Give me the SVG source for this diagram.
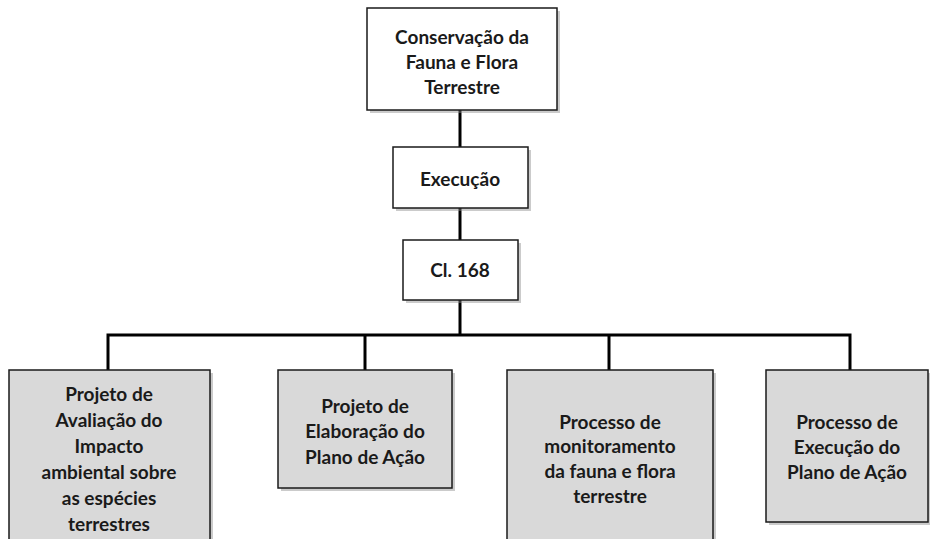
<svg xmlns="http://www.w3.org/2000/svg" width="930" height="539" viewBox="0 0 930 539">
<style>
.box{stroke:#1a1a1a;stroke-width:1.5}
.w{fill:#ffffff}
.g{fill:#d9d9d9}
.sh{fill:#8c8c8c;opacity:0.45}
text{font-family:Lato,"Liberation Sans",sans-serif;font-weight:bold;font-size:19px;fill:#1a1a1a;text-anchor:middle}
.c{stroke:#000;stroke-width:3;fill:none}
</style>
<rect width="930" height="539" fill="#ffffff"/>
<g id="connectors">
<line class="c" x1="460" y1="110" x2="460" y2="147"/>
<line class="c" x1="460" y1="208" x2="460" y2="240"/>
<line class="c" x1="460" y1="300" x2="460" y2="335"/>
<polyline class="c" points="108,370 108,335 850,335 850,370"/>
<line class="c" x1="365" y1="335" x2="365" y2="370"/>
<line class="c" x1="609" y1="335" x2="609" y2="370"/>
</g>
<g id="n1">
<rect class="sh" x="370" y="11" width="190" height="102"/>
<rect class="box w" x="367" y="8" width="190" height="102"/>
<text x="462" y="44">Conservação da</text>
<text x="462" y="69">Fauna e Flora</text>
<text x="462" y="94">Terrestre</text>
</g>
<g id="n2">
<rect class="sh" x="396" y="150" width="135" height="61"/>
<rect class="box w" x="393" y="147" width="135" height="61"/>
<text x="460" y="186">Execução</text>
</g>
<g id="n3">
<rect class="sh" x="406" y="243" width="115" height="60"/>
<rect class="box w" x="403" y="240" width="115" height="60"/>
<text x="460" y="277">Cl. 168</text>
</g>
<g id="n4">
<rect class="sh" x="12" y="373" width="201" height="180"/>
<rect class="box g" x="9" y="370" width="201" height="180"/>
<text x="109" y="401">Projeto de</text>
<text x="109" y="427">Avaliação do</text>
<text x="109" y="453">Impacto</text>
<text x="109" y="479">ambiental sobre</text>
<text x="109" y="505">as espécies</text>
<text x="109" y="531">terrestres</text>
</g>
<g id="n5">
<rect class="sh" x="281" y="373" width="174" height="118"/>
<rect class="box g" x="278" y="370" width="174" height="118"/>
<text x="365" y="413">Projeto de</text>
<text x="365" y="438">Elaboração do</text>
<text x="365" y="464">Plano de Ação</text>
</g>
<g id="n6">
<rect class="sh" x="510" y="373" width="206" height="180"/>
<rect class="box g" x="507" y="370" width="206" height="180"/>
<text x="610" y="429">Processo de</text>
<text x="610" y="453">monitoramento</text>
<text x="610" y="478">da fauna e flora</text>
<text x="610" y="503">terrestre</text>
</g>
<g id="n7">
<rect class="sh" x="769" y="373" width="162" height="152"/>
<rect class="box g" x="766" y="370" width="162" height="152"/>
<text x="847" y="429">Processo de</text>
<text x="847" y="454">Execução do</text>
<text x="847" y="479">Plano de Ação</text>
</g>
</svg>
